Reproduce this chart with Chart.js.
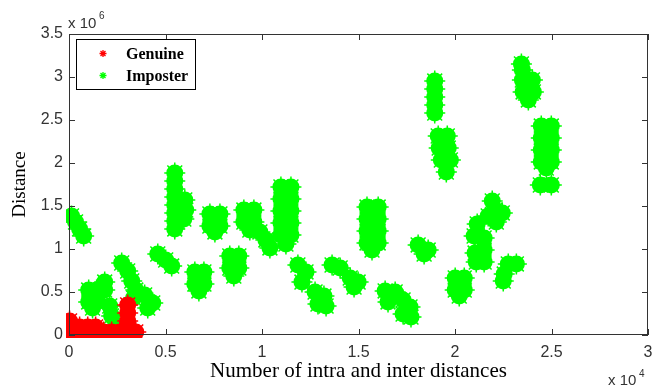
<!DOCTYPE html>
<html>
<head>
<meta charset="utf-8">
<script src="https://cdn.jsdelivr.net/npm/chart.js@4/dist/chart.umd.min.js"></script>
<style>
  html, body { margin: 0; padding: 0; background: #fff; }
  #chart { display: block; }
</style>
</head>
<body>
<canvas id="chart" width="664" height="386"></canvas>
<script>
// values in axis units: x in 10^4, y in 10^6
const seriesNames = ['Genuine', 'Imposter'];
const seriesColors = ['#ff0000', '#00ff00'];
const xTickValues = [0, 0.5, 1, 1.5, 2, 2.5, 3];
const yTickValues = [0, 0.5, 1, 1.5, 2, 2.5, 3, 3.5];

const genuinePoints = [
  [0.013, 0.035], [0.055, 0.035], [0.097, 0.035], [0.138, 0.035], [0.180, 0.035],
  [0.221, 0.035], [0.263, 0.035], [0.304, 0.035], [0.346, 0.035],
  [0.013, 0.093], [0.055, 0.093], [0.097, 0.093], [0.138, 0.093],
  [0.003, 0.163],
  [0.304, 0.163], [0.304, 0.256], [0.304, 0.349]
];

const imposterPoints = [
  // near origin
  [0.013, 1.384], [0.034, 1.314], [0.055, 1.233], [0.076, 1.151],
  [0.102, 0.523], [0.143, 0.523], [0.102, 0.384], [0.143, 0.384], [0.122, 0.314],
  [0.185, 0.616], [0.185, 0.523],
  [0.211, 0.337], [0.221, 0.221], [0.242, 0.116], [0.283, 0.105],
  [0.273, 0.837], [0.304, 0.744], [0.325, 0.628], [0.346, 0.523], [0.335, 0.430],
  [0.392, 0.465], [0.434, 0.372], [0.408, 0.314],
  [0.460, 0.942], [0.501, 0.872], [0.532, 0.802],
  // 0.5 - 1.0
  [0.548, 1.884], [0.548, 1.791], [0.548, 1.698], [0.548, 1.605], [0.548, 1.512],
  [0.548, 1.419], [0.548, 1.326], [0.548, 1.233],
  [0.600, 1.570], [0.605, 1.453], [0.595, 1.349],
  [0.652, 0.733], [0.699, 0.733], [0.652, 0.593], [0.699, 0.593], [0.673, 0.512],
  [0.730, 1.407], [0.782, 1.407], [0.730, 1.267], [0.782, 1.267], [0.756, 1.198],
  [0.833, 0.919], [0.880, 0.919], [0.833, 0.779], [0.880, 0.779], [0.854, 0.686],
  [0.906, 1.453], [0.958, 1.453], [0.906, 1.314], [0.958, 1.314], [0.937, 1.221],
  [0.989, 1.198], [1.020, 1.105], [1.041, 1.012],
  // 1.0 - 1.5
  [1.098, 1.721], [1.150, 1.721], [1.098, 1.581], [1.150, 1.581], [1.098, 1.442],
  [1.150, 1.442], [1.098, 1.302], [1.150, 1.302], [1.098, 1.163], [1.150, 1.163],
  [1.124, 1.058],
  [1.186, 0.814], [1.228, 0.733], [1.207, 0.616], [1.275, 0.500], [1.321, 0.453],
  [1.290, 0.360], [1.332, 0.337],
  [1.363, 0.814], [1.405, 0.779], [1.457, 0.663], [1.498, 0.616], [1.477, 0.558],
  // 1.5 - 2.0
  [1.544, 1.488], [1.602, 1.488], [1.544, 1.349], [1.602, 1.349], [1.544, 1.209],
  [1.602, 1.209], [1.544, 1.070], [1.602, 1.070], [1.570, 0.988],
  [1.638, 0.512], [1.690, 0.500], [1.653, 0.384], [1.731, 0.407], [1.767, 0.326],
  [1.731, 0.244], [1.772, 0.209],
  [1.809, 1.047], [1.861, 0.988], [1.840, 0.942],
  [1.895, 2.953], [1.895, 2.860], [1.895, 2.767], [1.895, 2.674], [1.895, 2.581],
  [1.913, 2.314], [1.960, 2.314], [1.918, 2.174], [1.965, 2.174], [1.929, 2.035],
  [1.976, 2.035], [1.955, 1.895],
  // 2.0 - 2.5
  [2.001, 0.663], [2.048, 0.663], [2.001, 0.523], [2.048, 0.523], [2.022, 0.453],
  [2.193, 1.558], [2.208, 1.453], [2.245, 1.419], [2.172, 1.384], [2.214, 1.314],
  [2.115, 1.291], [2.099, 1.151], [2.151, 1.128], [2.104, 0.953], [2.151, 0.988],
  [2.110, 0.849], [2.151, 0.849],
  [2.276, 0.826], [2.318, 0.826], [2.255, 0.709], [2.250, 0.628],
  [2.344, 3.151], [2.349, 3.081], [2.349, 2.965], [2.401, 2.965], [2.353, 2.826],
  [2.406, 2.826], [2.380, 2.733],
  [2.447, 2.430], [2.499, 2.430], [2.447, 2.291], [2.499, 2.291], [2.447, 2.151],
  [2.499, 2.151], [2.447, 2.012], [2.499, 2.012], [2.473, 1.942],
  [2.442, 1.744], [2.499, 1.744]
];

const toXY = pts => pts.map(([x, y]) => ({x, y}));
const allPoints = [genuinePoints, imposterPoints];

const datasets = [];
seriesNames.forEach((name, i) => {
  // spiky star outline, the visible marker
  datasets.push({
    label: name,
    data: toXY(allPoints[i]),
    pointStyle: 'star',
    pointRadius: 10.5,
    pointBorderWidth: 1.5,
    borderColor: seriesColors[i],
    backgroundColor: seriesColors[i],
    clip: 3
  });
  // solid core so dense stars read as filled clouds
  datasets.push({
    label: name + '_fill',
    data: toXY(allPoints[i]),
    pointStyle: 'circle',
    pointRadius: 8.5,
    pointBorderWidth: 0,
    borderColor: seriesColors[i],
    backgroundColor: seriesColors[i],
    clip: 3
  });
});

const tickFont = {family: 'Liberation Sans', size: 16};
const fmt = v => String(v);

const frame = {
  id: 'frame',
  afterDatasetsDraw(chart) {
    const {ctx, chartArea: a, scales: {x, y}} = chart;
    ctx.save();
    ctx.strokeStyle = '#333';
    ctx.lineWidth = 1;
    ctx.strokeRect(a.left + 0.5, a.top + 0.5, a.right - a.left - 1, a.bottom - a.top - 1);
    ctx.beginPath();
    xTickValues.forEach(v => {
      const p = Math.round(x.getPixelForValue(v)) + 0.5;
      ctx.moveTo(p, a.bottom); ctx.lineTo(p, a.bottom - 6);
      ctx.moveTo(p, a.top); ctx.lineTo(p, a.top + 6);
    });
    yTickValues.forEach(v => {
      const p = Math.round(y.getPixelForValue(v)) + 0.5;
      ctx.moveTo(a.left, p); ctx.lineTo(a.left + 6, p);
      ctx.moveTo(a.right, p); ctx.lineTo(a.right - 6, p);
    });
    ctx.stroke();
    ctx.restore();
  },
  afterDraw(chart) {
    const {ctx, chartArea: a} = chart;
    ctx.save();
    // exponent labels
    ctx.fillStyle = '#333';
    ctx.textBaseline = 'alphabetic';
    ctx.font = '15px "Liberation Sans"';
    ctx.fillText('x 10', a.left - 1, 28);
    ctx.fillText('x 10', a.right - 40, 385);
    ctx.font = '10px "Liberation Sans"';
    ctx.fillText('6', a.left + 30, 19);
    ctx.fillText('4', a.right - 9, 377);

    // legend box
    ctx.fillStyle = '#fff';
    ctx.fillRect(76.5, 39.5, 119, 50);
    ctx.strokeStyle = '#000';
    ctx.lineWidth = 1;
    ctx.strokeRect(76.5, 39.5, 119, 50);
    const rows = [59, 81];
    seriesNames.forEach((name, i) => {
      const cy = rows[i] - 5.5, cx = 103, r = 3.5;
      ctx.strokeStyle = seriesColors[i];
      ctx.lineWidth = 1.3;
      ctx.beginPath();
      for (let k = 0; k < 4; k++) {
        const ang = k * Math.PI / 4;
        ctx.moveTo(cx - r * Math.cos(ang), cy - r * Math.sin(ang));
        ctx.lineTo(cx + r * Math.cos(ang), cy + r * Math.sin(ang));
      }
      ctx.stroke();
      ctx.fillStyle = '#000';
      ctx.font = 'bold 16px "Liberation Serif"';
      ctx.fillText(name, 126, rows[i]);
    });
    ctx.restore();
  }
};

new Chart(document.getElementById('chart'), {
  type: 'scatter',
  data: {datasets},
  options: {
    responsive: false,
    animation: false,
    devicePixelRatio: 1,
    layout: {padding: {left: 0, right: 16, top: 34, bottom: 0}},
    plugins: {legend: {display: false}, tooltip: {enabled: false}},
    scales: {
      x: {
        type: 'linear',
        min: 0,
        max: 3,
        afterBuildTicks: s => { s.ticks = xTickValues.map(v => ({value: v})); },
        afterFit: s => { s.height = 51; },
        grid: {display: false, drawTicks: false},
        border: {display: false},
        ticks: {font: tickFont, color: '#333', padding: 8, maxRotation: 0, callback: fmt},
        title: {
          display: true,
          text: 'Number of intra and inter distances',
          font: {family: 'Liberation Serif', size: 21},
          color: '#000',
          padding: {top: 0, bottom: 2}
        }
      },
      y: {
        type: 'linear',
        min: 0,
        max: 3.5,
        afterBuildTicks: s => { s.ticks = yTickValues.map(v => ({value: v})); },
        afterFit: s => { s.width = 69; },
        grid: {display: false, drawTicks: false},
        border: {display: false},
        ticks: {font: tickFont, color: '#333', padding: 6, callback: fmt},
        title: {
          display: true,
          text: 'Distance',
          font: {family: 'Liberation Serif', size: 19},
          color: '#000',
          padding: {top: 9, bottom: 0}
        }
      }
    }
  },
  plugins: [frame]
});
</script>
</body>
</html>
